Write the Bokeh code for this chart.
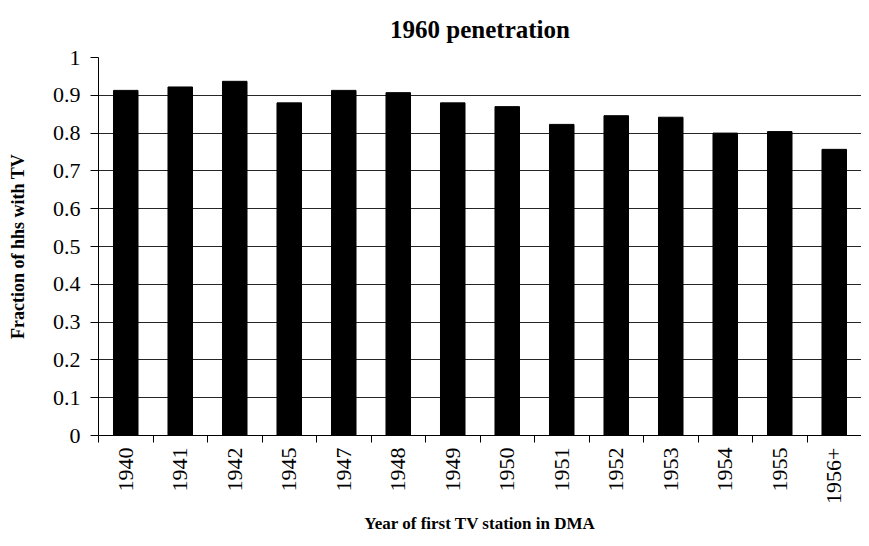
import math
from bokeh.plotting import figure
from bokeh.models import (Range1d, FixedTicker, LinearAxis,
                          ColumnDataSource, FactorRange)
from bokeh.embed import file_html
from bokeh.resources import INLINE

# ---- data ----
years = ["1940", "1941", "1942", "1945", "1947", "1948", "1949", "1950",
         "1951", "1952", "1953", "1954", "1955", "1956+"]
share = [0.913, 0.922, 0.937, 0.880, 0.913, 0.907, 0.880, 0.870,
         0.823, 0.846, 0.842, 0.800, 0.804, 0.757]
y_ticks = [0, 0.1, 0.2, 0.3, 0.4, 0.5, 0.6, 0.7, 0.8, 0.9, 1.0]
y_labels = ["0", "0.1", "0.2", "0.3", "0.4", "0.5", "0.6", "0.7", "0.8", "0.9", "1"]
title_text = "1960 penetration"
x_title = "Year of first TV station in DMA"
y_title = "Fraction of hhs with TV"

FONT = "Liberation Serif"

src = ColumnDataSource(dict(year=years, share=share))

p = figure(x_range=FactorRange(factors=years, range_padding=0),
           y_range=Range1d(0, 1),
           width=861, height=538, output_backend="svg", toolbar_location=None,
           x_axis_location=None, title=title_text,
           min_border_left=98, min_border_right=0, min_border_top=57,
           min_border_bottom=103)
p.outline_line_color = None
p.background_fill_color = "white"
p.border_fill_color = "white"

p.title.align = "center"
p.title.vertical_align = "top"
p.title.text_font = FONT
p.title.text_font_size = "25px"
p.title.text_font_style = "bold"
p.title.text_color = "black"
p.title.standoff = 26

p.vbar(x="year", top="share", width=0.45, source=src,
       fill_color="black", line_color="black")

# y axis
ya = p.yaxis[0]
ya.ticker = FixedTicker(ticks=y_ticks)
ya.major_label_overrides = {t: l for t, l in zip(y_ticks, y_labels)}
ya.major_tick_out = 8
ya.major_tick_in = 0
ya.minor_tick_line_color = None
ya.axis_line_color = "black"
ya.major_tick_line_color = "black"
ya.major_label_text_font = FONT
ya.major_label_text_font_size = "22px"
ya.major_label_text_color = "black"
ya.major_label_standoff = 10
ya.axis_label = y_title
ya.axis_label_text_font = FONT
ya.axis_label_text_font_size = "18px"
ya.axis_label_text_font_style = "bold"
ya.axis_label_text_color = "black"
ya.axis_label_standoff = 22

p.ygrid.grid_line_color = "black"
p.ygrid.grid_line_alpha = 0.85
p.ygrid.ticker = FixedTicker(ticks=y_ticks)
p.xgrid.grid_line_color = None

# x axis: labels at category centres, tick marks at category boundaries
centres = [i + 0.5 for i in range(len(years))]
edges = list(range(len(years)))
xa = LinearAxis(ticker=FixedTicker(ticks=centres, minor_ticks=edges),
                major_label_overrides={c: y for c, y in zip(centres, years)},
                major_tick_line_color=None, major_tick_out=7, major_tick_in=0,
                minor_tick_line_color="black", minor_tick_out=7, minor_tick_in=0,
                axis_line_color="black",
                major_label_orientation=math.pi / 2,
                major_label_text_font=FONT,
                major_label_text_font_size="22px",
                major_label_text_color="black",
                major_label_standoff=5,
                axis_label=x_title,
                axis_label_text_font=FONT,
                axis_label_text_font_size="17px",
                axis_label_text_font_style="bold",
                axis_label_text_color="black",
                axis_label_standoff=7)
p.add_layout(xa, "below")

open("out.html", "w").write(file_html(p, INLINE))
